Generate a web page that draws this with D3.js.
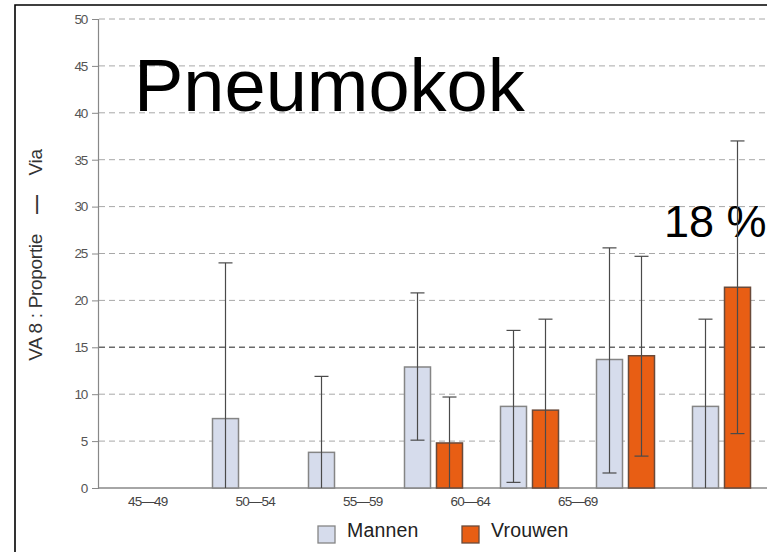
<!DOCTYPE html>
<html><head><meta charset="utf-8">
<script src="https://cdn.jsdelivr.net/npm/d3@7"></script>
<style>html,body{margin:0;padding:0;background:#fff;overflow:hidden}</style>
</head><body>
<svg id="c" width="767" height="552"></svg>
<script>
// ---- data ----
const categories = ["45—49","50—54","55—59","60—64","65—69","70—74","75+"];
const tickLabels = ["45—49","50—54","55—59","60—64","65—69"];
const series = ["Mannen","Vrouwen"];
const mannen      = [null, 7.4, 3.8, 12.9, 8.7, 13.7, 8.7];
const mannenLow   = [null, 0,   0,   5.1,  0.6, 1.6,  0];
const mannenHigh  = [null, 24.0,11.9,20.8, 16.8,25.6, 18.0];
const vrouwen     = [null, null,null,4.8,  8.3, 14.1, 21.4];
const vrouwenLow  = [null, null,null,0,    0,   3.4,  5.8];
const vrouwenHigh = [null, null,null,9.7,  18.0,24.7, 37.0];
const yTicks = [0,5,10,15,20,25,30,35,40,45,50];
const title = "Pneumokok";
const note = "18 %";
const yLabelParts = ["VA 8 : Proportie\u00a0\u00a0\u00a0\u00a0", "—", "\u00a0\u00a0\u00a0\u00a0Via"];

const colors = {Mannen:"#d6dcec", Vrouwen:"#e85e14"};
const strokes = {Mannen:"#858585", Vrouwen:"#6a4a3a"};

const svg = d3.select("#c");
const font = "'Liberation Sans', Arial, sans-serif";

// frame
svg.append("path").attr("d","M15,552 V5 H767").attr("fill","none").attr("stroke","#000").attr("stroke-width",1.6);

const y = d3.scaleLinear().domain([0,50]).range([488,19]);
const x = d3.scaleBand().domain(categories).range([97.5, 97.5+96*categories.length]);
const xs = d3.scaleBand().domain(series).range([0, x.bandwidth()]).paddingInner(0.1875).paddingOuter(0.59375);
const xl = d3.scaleBand().domain(tickLabels).range([94, 94+107.5*tickLabels.length]);

// gridlines
svg.append("g").selectAll("line").data(yTicks.filter(d=>d>0)).join("line")
  .attr("x1",99).attr("x2",767).attr("y1",d=>y(d)).attr("y2",d=>y(d))
  .attr("stroke",d=>d===15?"#6a6a6a":"#a8a8a8")
  .attr("stroke-width",d=>d===15?1.4:1)
  .attr("stroke-dasharray","6,4");

// y axis
const yAxis = svg.append("g").attr("transform","translate(98,0)")
  .call(d3.axisLeft(y).tickValues(yTicks).tickSize(6).tickPadding(5));
yAxis.select(".domain").attr("stroke","#888").attr("stroke-width",1.2);
yAxis.selectAll(".tick line").attr("stroke","#888");
yAxis.selectAll("text").attr("font-family",font).attr("font-size",13.5).attr("fill","#555").attr("letter-spacing",-1.2);

// x axis line
svg.append("line").attr("x1",98).attr("x2",767).attr("y1",y(0)).attr("y2",y(0)).attr("stroke","#888").attr("stroke-width",1.4);

// x tick labels
const xAxis = svg.append("g").attr("transform",`translate(0,${y(0)})`)
  .call(d3.axisBottom(xl).tickSize(0).tickPadding(8));
xAxis.select(".domain").remove();
xAxis.selectAll("text").attr("font-family",font).attr("font-size",13.5).attr("fill","#444").attr("letter-spacing",-0.8);

// bars
const bars = [];
categories.forEach((c,i)=>{
  if(mannen[i]!=null) bars.push({c,s:"Mannen",v:mannen[i],lo:mannenLow[i],hi:mannenHigh[i]});
  if(vrouwen[i]!=null) bars.push({c,s:"Vrouwen",v:vrouwen[i],lo:vrouwenLow[i],hi:vrouwenHigh[i]});
});
const g = svg.append("g");
g.selectAll("rect").data(bars).join("rect")
  .attr("x",d=>x(d.c)+xs(d.s)).attr("width",xs.bandwidth())
  .attr("y",d=>y(d.v)).attr("height",d=>y(0)-y(d.v))
  .attr("fill",d=>colors[d.s]).attr("stroke",d=>strokes[d.s]).attr("stroke-width",1.5);

// title and note (under error bars)
svg.append("text").attr("x",134).attr("y",111).attr("font-family",font).attr("font-size",74).attr("fill","#000").text(title);
svg.append("text").attr("x",664).attr("y",237).attr("font-family",font).attr("font-size",45).attr("fill","#000").text(note);

// error bars
const cap = 7;
const eb = svg.append("g").attr("stroke","#4a4a4a").attr("stroke-width",1.2);
bars.forEach(d=>{
  const cx = x(d.c)+xs(d.s)+xs.bandwidth()/2;
  eb.append("line").attr("x1",cx).attr("x2",cx).attr("y1",y(d.hi)).attr("y2",y(d.lo));
  eb.append("line").attr("x1",cx-cap).attr("x2",cx+cap).attr("y1",y(d.hi)).attr("y2",y(d.hi));
  if(d.lo>0) eb.append("line").attr("x1",cx-cap).attr("x2",cx+cap).attr("y1",y(d.lo)).attr("y2",y(d.lo));
});

// legend
const leg = svg.append("g");
const legX = {Mannen:318, Vrouwen:462};
series.forEach(s=>{
  leg.append("rect").attr("x",legX[s]).attr("y",526).attr("width",17).attr("height",17)
    .attr("fill",colors[s]).attr("stroke",strokes[s]).attr("stroke-width",1.3);
  leg.append("text").attr("x",legX[s]+29).attr("y",537).text(s)
    .attr("font-family",font).attr("font-size",19.5).attr("fill","#222").attr("letter-spacing",0.2);
});

// y label
const yl = svg.append("text").attr("transform","translate(42,255) rotate(-90)").attr("text-anchor","middle")
  .attr("font-family",font).attr("font-size",19).attr("fill","#333").attr("letter-spacing",-0.3);
yl.selectAll("tspan").data(yLabelParts).join("tspan").text(d=>d).attr("font-weight",(d,i)=>i===1?"bold":null);
</script>
</body></html>
